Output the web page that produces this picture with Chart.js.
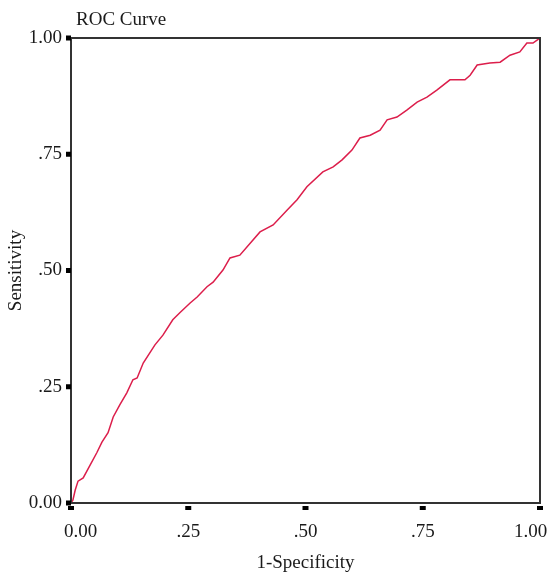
<!DOCTYPE html>
<html>
<head>
<meta charset="utf-8">
<script src="https://cdn.jsdelivr.net/npm/chart.js@4/dist/chart.umd.min.js"></script>
<style>
  html, body { margin: 0; padding: 0; background: #ffffff; }
  #wrap { width: 550px; height: 576px; position: relative; }
</style>
</head>
<body>
<div id="wrap"><canvas id="c" width="550" height="576"></canvas></div>
<script>
// ---- Data ----
const chartTitle = "ROC Curve";
const xAxisTitle = "1-Specificity";
const yAxisTitle = "Sensitivity";
const tickValues = [0, 0.25, 0.5, 0.75, 1];
const tickLabels = ["0.00", ".25", ".50", ".75", "1.00"];

const falsePositiveRate = [
  0, 0.004, 0.009, 0.015, 0.026, 0.041, 0.055, 0.066, 0.079, 0.090,
  0.104, 0.119, 0.132, 0.141, 0.154, 0.179, 0.196, 0.217, 0.232, 0.254,
  0.269, 0.290, 0.303, 0.324, 0.339, 0.360, 0.403, 0.431, 0.461, 0.482,
  0.503, 0.537, 0.559, 0.578, 0.599, 0.616, 0.638, 0.659, 0.674, 0.695,
  0.716, 0.738, 0.759, 0.780, 0.808, 0.840, 0.851, 0.866, 0.893, 0.915,
  0.936, 0.957, 0.972, 0.985, 1
];
const sensitivity = [
  0, 0.006, 0.028, 0.047, 0.054, 0.082, 0.108, 0.131, 0.151, 0.185,
  0.211, 0.237, 0.265, 0.269, 0.301, 0.340, 0.361, 0.394, 0.409, 0.430,
  0.443, 0.465, 0.475, 0.501, 0.527, 0.533, 0.583, 0.598, 0.630, 0.652,
  0.680, 0.712, 0.723, 0.738, 0.759, 0.785, 0.791, 0.802, 0.824, 0.830,
  0.845, 0.862, 0.873, 0.888, 0.910, 0.910, 0.920, 0.942, 0.946, 0.948,
  0.963, 0.970, 0.989, 0.989, 1
];

const points = falsePositiveRate.map((x, i) => ({ x: x, y: sensitivity[i] }));
const FONT = '"Liberation Serif", "Times New Roman", serif';
const TEXT = '#1a1a1a';

const framePlugin = {
  id: 'frame',
  afterDraw(chart) {
    const ctx = chart.ctx;
    const { left, top, right, bottom } = chart.chartArea;
    ctx.save();
    ctx.strokeStyle = '#333333';
    ctx.lineWidth = 2;
    ctx.strokeRect(left, top, right - left, bottom - top);
    ctx.fillStyle = '#000000';
    tickValues.forEach(v => {
      const px = chart.scales.x.getPixelForValue(v);
      ctx.fillRect(px - 3, bottom + 3, 6, 4);
      const py = chart.scales.y.getPixelForValue(v);
      ctx.fillRect(left - 5, py - 2.5, 5, 5);
    });
    ctx.fillStyle = TEXT;
    ctx.font = '19px ' + FONT;
    ctx.textAlign = 'left';
    ctx.textBaseline = 'alphabetic';
    ctx.fillText(chartTitle, 76, 25);
    ctx.restore();
  }
};

const fmt = v => {
  const i = tickValues.findIndex(t => Math.abs(t - v) < 1e-9);
  return i >= 0 ? tickLabels[i] : '';
};
// edge labels of the x axis are nudged inward (as in the reference) using en-spaces
const fmtX = v => {
  const s = fmt(v);
  if (Math.abs(v) < 1e-9) return '\u2002\u2002' + s;
  if (Math.abs(v - 1) < 1e-9) return s + '\u2002\u2002';
  return s;
};

new Chart(document.getElementById('c'), {
  type: 'line',
  data: {
    datasets: [{
      data: points,
      borderColor: '#dc1e4b',
      borderWidth: 1.5,
      pointRadius: 0,
      tension: 0,
      fill: false
    }]
  },
  options: {
    responsive: false,
    animation: false,
    layout: { padding: { top: 38, right: 10, left: 0, bottom: 0 } },
    plugins: { legend: { display: false }, tooltip: { enabled: false }, title: { display: false } },
    scales: {
      x: {
        type: 'linear',
        min: 0, max: 1,
        afterFit(s) { s.height = 73; s.paddingLeft = 0; s.paddingRight = 0; },
        afterBuildTicks(s) { s.ticks = tickValues.map(v => ({ value: v })); },
        grid: { display: true, drawOnChartArea: false, drawTicks: true, tickLength: 8, tickColor: 'rgba(0,0,0,0)' },
        border: { display: false },
        ticks: { callback: fmtX, padding: 10, maxRotation: 0, color: TEXT, font: { family: FONT, size: 19 } },
        title: { display: true, text: xAxisTitle, color: TEXT, font: { family: FONT, size: 19 }, padding: { top: 0, bottom: 2 } }
      },
      y: {
        type: 'linear',
        min: 0, max: 1,
        afterFit(s) { s.width = 71; s.paddingTop = 0; s.paddingBottom = 0; },
        afterBuildTicks(s) { s.ticks = tickValues.map(v => ({ value: v })); },
        grid: { display: true, drawOnChartArea: false, drawTicks: true, tickLength: 5, tickColor: 'rgba(0,0,0,0)' },
        border: { display: false },
        ticks: { callback: fmt, padding: 4, color: TEXT, font: { family: FONT, size: 19 } },
        title: { display: true, text: yAxisTitle, color: TEXT, font: { family: FONT, size: 19 }, padding: { top: 5, bottom: 0 } }
      }
    }
  },
  plugins: [framePlugin]
});
</script>
</body>
</html>
